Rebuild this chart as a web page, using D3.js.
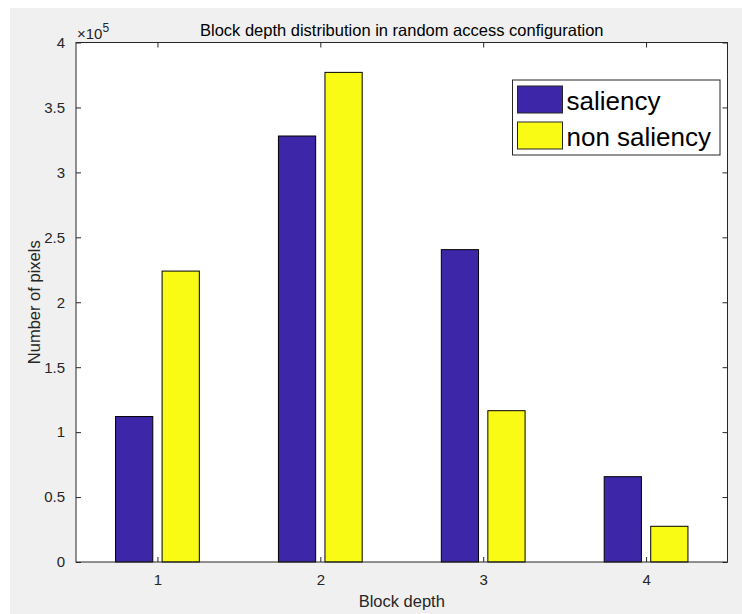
<!DOCTYPE html>
<html lang="en">
<head>
    <meta charset="UTF-8">
    <title>Block depth distribution</title>
    <script src="https://cdnjs.cloudflare.com/ajax/libs/d3/7.8.5/d3.min.js"></script>
    <style>
        body { margin: 0; background: #ffffff; }
        svg { display: block; font-family: Arial, "Liberation Sans", sans-serif; }
    </style>
</head>
<body>
    <div id="chart"></div>
    <script>
        // Data
        const depths = [1, 2, 3, 4];
        const saliency = [112000, 328000, 240500, 65700];
        const nonSaliency = [224000, 377000, 116500, 27500];
        const seriesNames = ["saliency", "non saliency"];
        const seriesColors = ["#3e26a8", "#f9fb15"];
        const yTicks = [0, 50000, 100000, 150000, 200000, 250000, 300000, 350000, 400000];

        const W = 742, H = 614;
        const plot = {left: 76, top: 42.5, right: 727.5, bottom: 562};
        const axisColor = "#262626";
        const font = "Arial, 'Liberation Sans', sans-serif";

        const svg = d3.select("#chart").append("svg")
            .attr("width", W)
            .attr("height", H);

        // Figure background
        svg.append("rect")
            .attr("x", 10).attr("y", 8)
            .attr("width", W - 10).attr("height", H - 8)
            .attr("fill", "#f0f0f0");

        // Axes background
        svg.append("rect")
            .attr("x", plot.left).attr("y", plot.top)
            .attr("width", plot.right - plot.left)
            .attr("height", plot.bottom - plot.top)
            .attr("fill", "#ffffff");

        const x = d3.scaleLinear().domain([0.5, 4.5]).range([plot.left, plot.right]);
        const y = d3.scaleLinear().domain([0, 400000]).range([plot.bottom, plot.top]);

        // MATLAB grouped bar geometry: group width 0.571, bar width 0.8 of slot
        const groupWidth = Math.min(0.8, 2 / (2 + 1.5));
        const slot = groupWidth / 2;
        const barWidth = slot * 0.8;

        const series = [saliency, nonSaliency];
        series.forEach((values, s) => {
            const offset = -groupWidth / 2 + slot * (s + 0.5);
            svg.append("g")
                .selectAll("rect")
                .data(values)
                .join("rect")
                    .attr("x", (d, i) => x(depths[i] + offset - barWidth / 2))
                    .attr("y", d => y(d))
                    .attr("width", (d, i) => x(depths[i] + barWidth) - x(depths[i]))
                    .attr("height", d => y(0) - y(d))
                    .attr("fill", seriesColors[s])
                    .attr("stroke", "#000000")
                    .attr("stroke-width", 1);
        });

        // Axes with inward ticks, box on
        const tickLen = 5;
        const fmtY = d => d3.format("~g")(d / 1e5);

        svg.append("g")
            .attr("transform", `translate(0,${plot.bottom})`)
            .call(d3.axisBottom(x).tickValues(depths).tickFormat(d3.format("d"))
                .tickSizeInner(-tickLen).tickSizeOuter(0).tickPadding(12))
            .call(g => g.select(".domain").remove());

        svg.append("g")
            .attr("transform", `translate(0,${plot.top})`)
            .call(d3.axisTop(x).tickValues(depths).tickSizeInner(-tickLen).tickSizeOuter(0).tickFormat(""))
            .call(g => g.select(".domain").remove());

        svg.append("g")
            .attr("transform", `translate(${plot.left},0)`)
            .call(d3.axisLeft(y).tickValues(yTicks).tickFormat(fmtY)
                .tickSizeInner(-tickLen).tickSizeOuter(0).tickPadding(11))
            .call(g => g.select(".domain").remove());

        svg.append("g")
            .attr("transform", `translate(${plot.right},0)`)
            .call(d3.axisRight(y).tickValues(yTicks).tickFormat("").tickSizeInner(-tickLen).tickSizeOuter(0))
            .call(g => g.select(".domain").remove());

        svg.selectAll(".tick line").attr("stroke", axisColor);
        svg.selectAll(".tick text")
            .attr("fill", axisColor)
            .style("font-size", "15px")
            .style("font-family", font);

        // Box outline
        svg.append("rect")
            .attr("x", plot.left).attr("y", plot.top)
            .attr("width", plot.right - plot.left)
            .attr("height", plot.bottom - plot.top)
            .attr("fill", "none")
            .attr("stroke", axisColor)
            .attr("stroke-width", 1);

        // Exponent label
        const expo = svg.append("text")
            .attr("x", 77)
            .attr("y", 39)
            .attr("text-anchor", "start")
            .attr("fill", axisColor)
            .style("font-family", font)
            .style("font-size", "15px");
        expo.append("tspan").text("×10");
        expo.append("tspan").attr("dy", -7).style("font-size", "12px").text("5");

        // Title
        svg.append("text")
            .attr("x", (plot.left + plot.right) / 2)
            .attr("y", 35.5)
            .attr("text-anchor", "middle")
            .attr("fill", "#000000")
            .style("font-size", "16.5px")
            .text("Block depth distribution in random access configuration");

        // Axis labels
        svg.append("text")
            .attr("x", (plot.left + plot.right) / 2)
            .attr("y", 607)
            .attr("text-anchor", "middle")
            .attr("fill", axisColor)
            .style("font-size", "16.5px")
            .text("Block depth");

        svg.append("text")
            .attr("transform", `translate(39.5,${(plot.top + plot.bottom) / 2}) rotate(-90)`)
            .attr("text-anchor", "middle")
            .attr("fill", axisColor)
            .style("font-size", "16.5px")
            .text("Number of pixels");

        // Legend
        const legend = svg.append("g");
        legend.append("rect")
            .attr("x", 512.5).attr("y", 80)
            .attr("width", 207.5).attr("height", 75)
            .attr("fill", "#ffffff")
            .attr("stroke", axisColor)
            .attr("stroke-width", 1);

        const legendRows = [{y: 86, base: 110}, {y: 122, base: 146}];
        seriesNames.forEach((name, s) => {
            legend.append("rect")
                .attr("x", 517.5).attr("y", legendRows[s].y)
                .attr("width", 45).attr("height", 27)
                .attr("fill", seriesColors[s])
                .attr("stroke", axisColor)
                .attr("stroke-width", 1);
            legend.append("text")
                .attr("x", 566.5).attr("y", legendRows[s].base)
                .attr("fill", "#000000")
                .style("font-size", "26px")
                .text(name);
        });
    </script>
</body>
</html>
